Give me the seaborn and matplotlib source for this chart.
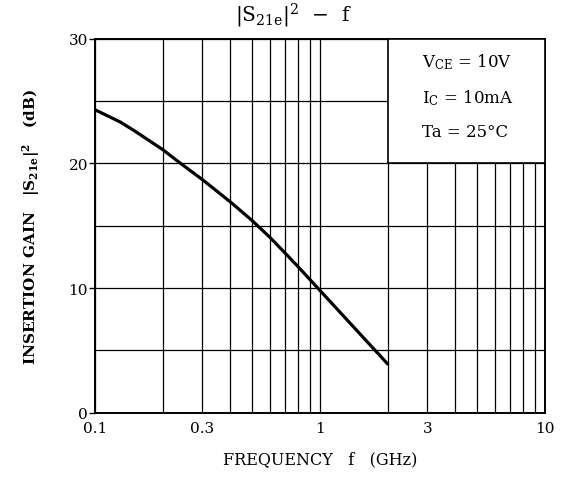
import numpy as np
import pandas as pd
import matplotlib
matplotlib.use("Agg")
import matplotlib.pyplot as plt
from matplotlib.ticker import FixedLocator, NullFormatter
from matplotlib.patches import Rectangle
import seaborn as sns

# data
freq_ghz = [0.1, 0.13, 0.15, 0.2, 0.24, 0.3, 0.4, 0.5, 0.6, 0.7, 0.8, 0.9, 1.0, 1.5, 2.0]
gain_db = [24.3, 23.3, 22.6, 21.1, 20.0, 18.7, 16.9, 15.4, 14.05, 12.8, 11.7, 10.7, 9.8, 6.35, 3.9]

x_ticks = [0.1, 0.3, 1, 3, 10]
x_tick_labels = ["0.1", "0.3", "1", "3", "10"]
x_minor = [0.2, 0.4, 0.5, 0.6, 0.7, 0.8, 0.9, 2, 4, 5, 6, 7, 8, 9]
y_ticks = [0, 10, 20, 30]
y_minor = [5, 15, 25]
cond_lines = [r"V$_{\mathregular{CE}}$ = 10V", r"I$_{\mathregular{C}}$ = 10mA", "Ta = 25°C"]

sns.set_style("white")
plt.rcParams["font.family"] = ["DejaVu Serif"]
plt.rcParams["mathtext.fontset"] = "dejavuserif"
plt.rcParams["text.color"] = "black"
plt.rcParams["axes.labelcolor"] = "black"
plt.rcParams["xtick.color"] = "black"
plt.rcParams["ytick.color"] = "black"

fig = plt.figure(figsize=(5.63, 4.81), dpi=100)
ax = fig.add_axes([0.1687, 0.140, 0.968 - 0.1687, 0.9175 - 0.140])

df = pd.DataFrame({"f": freq_ghz, "g": gain_db})
sns.lineplot(data=df, x="f", y="g", ax=ax, color="black", linewidth=2.3, zorder=5)

ax.set_xscale("log")
ax.set_xlim(0.1, 10)
ax.set_ylim(0, 30)
ax.xaxis.set_major_locator(FixedLocator(x_ticks))
ax.set_xticklabels(x_tick_labels)
ax.xaxis.set_minor_locator(FixedLocator(x_minor))
ax.xaxis.set_minor_formatter(NullFormatter())
ax.yaxis.set_major_locator(FixedLocator(y_ticks))
ax.yaxis.set_minor_locator(FixedLocator(y_minor))

ax.grid(True, which="both", color="black", linewidth=0.9)
ax.set_axisbelow(True)
for sp in ax.spines.values():
    sp.set_color("black")
    sp.set_linewidth(1.4)

ax.tick_params(axis="x", which="both", length=0, labelsize=11, pad=6, labelcolor="black")
ax.tick_params(axis="y", which="major", length=4, width=1, direction="out", left=True,
               labelsize=11, pad=1, color="black", labelcolor="black")
ax.tick_params(axis="y", which="minor", length=0)

ax.set_xlabel("FREQUENCY   f   (GHz)", fontsize=11.5, labelpad=11, color="black")
ax.set_ylabel(r"INSERTION GAIN   |S$_{\mathregular{21e}}$|$^{\mathregular{2}}$   (dB)",
              fontsize=11, fontweight="bold", labelpad=19, color="black")
fig.text(294 / 563, 1 - 22 / 481, r"|S$_{\mathregular{21e}}$|$^{\mathregular{2}}$  −  f",
         fontsize=14.5, ha="center", va="baseline", color="black")

# condition box (from f=2 to 10, 20 dB to 30 dB)
rect = Rectangle((2, 20), 8, 10, facecolor="white", edgecolor="black", linewidth=1.2, zorder=4)
ax.add_patch(rect)
for t, yb in zip(cond_lines, [0.927, 0.831, 0.740]):
    ax.text(0.726, yb, t, transform=ax.transAxes, fontsize=12, color="black",
            va="baseline", ha="left", zorder=6)

fig.savefig("out.png", dpi=100)
